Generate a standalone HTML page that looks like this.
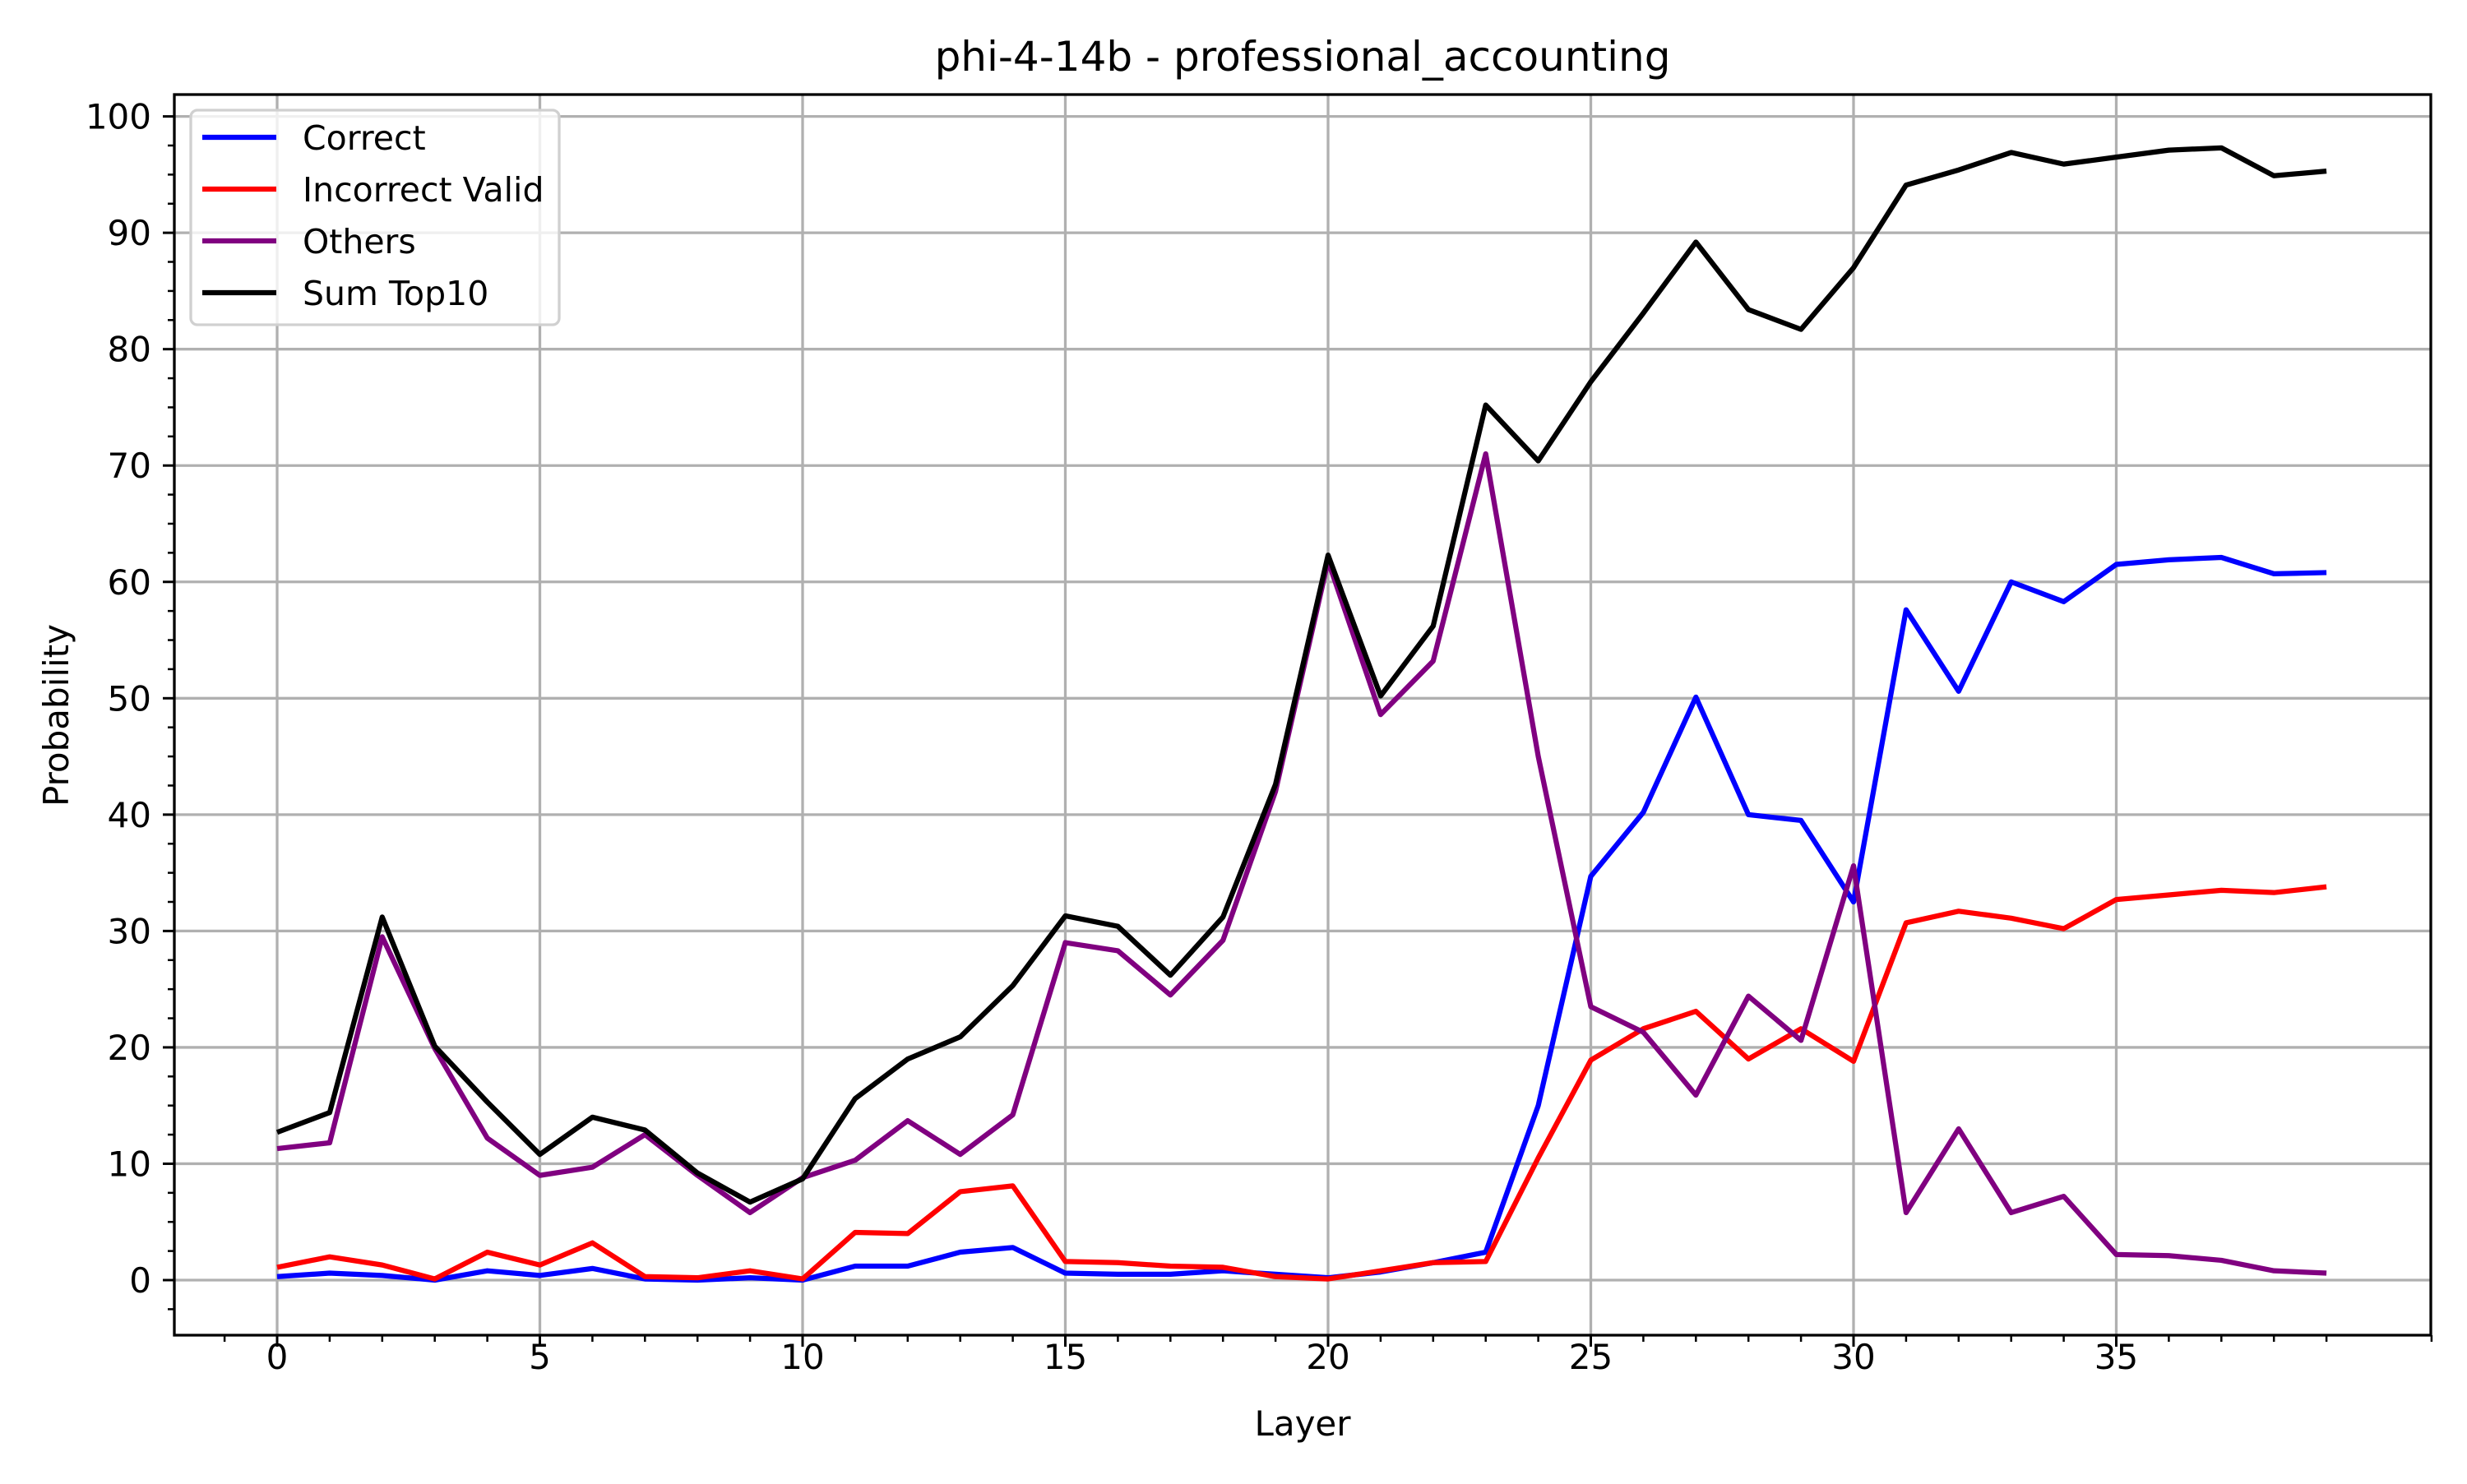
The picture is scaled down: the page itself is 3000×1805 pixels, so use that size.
<!DOCTYPE html>
<html><head><meta charset="utf-8"><style>
body{margin:0;background:#fff}
svg text{font-family:"DejaVu Sans","Liberation Sans",sans-serif}
</style></head><body>
<svg id="c" width="3000" height="1800" xmlns="http://www.w3.org/2000/svg"></svg>
<script>
const layers=[...Array(40).keys()];
const correct=[0.3,0.6,0.4,0,0.8,0.4,1.0,0.1,0,0.2,0,1.2,1.2,2.4,2.8,0.6,0.5,0.5,0.8,0.5,0.2,0.7,1.5,2.4,15,34.7,40.2,50.1,40,39.5,32.5,57.6,50.6,60,58.3,61.5,61.9,62.1,60.7,60.8];
const incorrect=[1.1,2.0,1.3,0.1,2.4,1.3,3.2,0.3,0.2,0.8,0.1,4.1,4.0,7.6,8.1,1.6,1.5,1.2,1.1,0.3,0.1,0.8,1.5,1.6,10.5,18.9,21.6,23.1,19,21.6,18.8,30.7,31.7,31.1,30.2,32.7,33.1,33.5,33.3,33.8];
const others=[11.3,11.8,29.5,19.9,12.2,9.0,9.7,12.5,9.0,5.8,8.8,10.3,13.7,10.8,14.2,29,28.3,24.5,29.2,42,61.8,48.6,53.2,71,45,23.5,21.3,15.9,24.4,20.6,35.6,5.8,13,5.8,7.2,2.2,2.1,1.7,0.8,0.6];
const sumTop10=[12.7,14.4,31.2,20.1,15.3,10.8,14,12.9,9.2,6.7,8.7,15.6,19,20.9,25.3,31.3,30.4,26.2,31.2,42.6,62.3,50.2,56.2,75.2,70.4,77.2,83.1,89.2,83.4,81.7,87,94.1,95.4,96.9,95.9,96.5,97.1,97.3,94.9,95.3];
const xTicks=[0,5,10,15,20,25,30,35];
const yTicks=[0,10,20,30,40,50,60,70,80,90,100];
const L=212,R=2956,T=115,B=1624;
const X=v=>337+v*63.9, Y=v=>1557-v*14.154;
const svg=document.getElementById('c');const NS='http://www.w3.org/2000/svg';
function mk(t,a,p){const e=document.createElementNS(NS,t);for(const k in a)e.setAttribute(k,a[k]);(p||svg).appendChild(e);return e;}
function tx(s,a){const e=mk('text',a);e.textContent=s;return e;}
const g=mk('g',{});


xTicks.forEach(v=>{mk('line',{x1:X(v),x2:X(v),y1:T,y2:B,stroke:'#b0b0b0','stroke-width':3.3},g);});
yTicks.forEach(v=>{mk('line',{x1:L,x2:R,y1:Y(v),y2:Y(v),stroke:'#b0b0b0','stroke-width':3.3},g);});
for(let v=-1;v<=41;v++){if(v%5)mk('line',{x1:X(v),x2:X(v),y1:B,y2:B+8,stroke:'#000','stroke-width':2.5});}
for(let v=-2.5;v<=101;v+=2.5){if(v%10)mk('line',{x1:L,x2:L-8,y1:Y(v),y2:Y(v),stroke:'#000','stroke-width':2.5});}
xTicks.forEach(v=>{mk('line',{x1:X(v),x2:X(v),y1:B,y2:B+14,stroke:'#000','stroke-width':3});
const t=tx(v,{x:X(v),y:1665,'font-size':42,'text-anchor':'middle'});

});
yTicks.forEach(v=>{mk('line',{x1:L,x2:L-14,y1:Y(v),y2:Y(v),stroke:'#000','stroke-width':3});
const t=tx(v,{x:184,y:Y(v)+15,'font-size':42,'text-anchor':'end'});

});
const series=[['correct',correct,'#0000ff','Correct'],['incorrect-valid',incorrect,'#ff0000','Incorrect Valid'],['others',others,'#800080','Others'],['sum-top10',sumTop10,'#000000','Sum Top10']];
series.forEach(([n,d,c])=>{const p=mk('polyline',{points:d.map((v,i)=>X(layers[i])+','+Y(v)).join(' '),fill:'none',stroke:c,'stroke-width':6.25,'stroke-linejoin':'round'});

});
mk('rect',{x:L,y:T,width:R-L,height:B-T,fill:'none',stroke:'#000','stroke-width':3.3});
const lg=mk('g',{});


mk('rect',{x:232,y:134,width:448,height:261,rx:8,fill:'rgba(255,255,255,0.8)',stroke:'#d0d0d0','stroke-width':3.3},lg);
series.forEach(([n,d,c,lab],i)=>{const y=167+i*63;
mk('line',{x1:246,x2:336,y1:y,y2:y,stroke:c,'stroke-width':6.25},lg);
const t=tx(lab,{x:368,y:y+15,'font-size':41});lg.appendChild(t);

});
const ti=tx('phi-4-14b - professional_accounting',{x:1584,y:86,'font-size':50,'text-anchor':'middle'});


const xl=tx('Layer',{x:1584,y:1746,'font-size':42,'text-anchor':'middle'});


const yl=tx('Probability',{x:0,y:0,'font-size':42,'text-anchor':'middle',transform:'translate(83,870) rotate(-90)'});


</script>
</body></html>
